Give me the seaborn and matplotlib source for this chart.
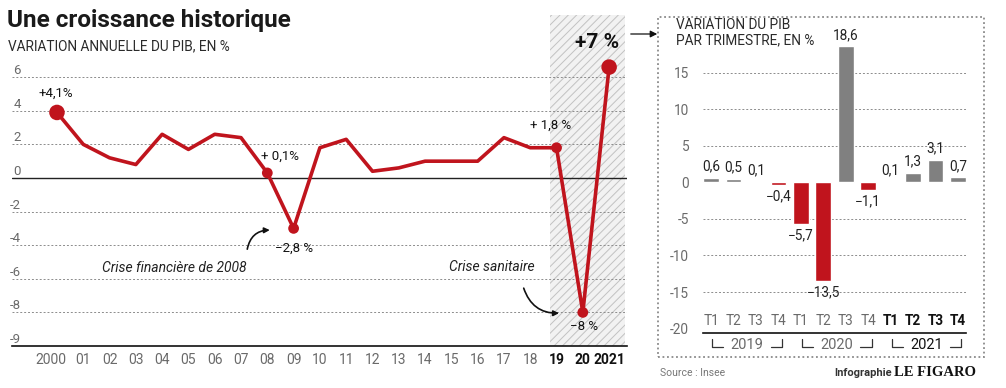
import matplotlib.pyplot as plt
import matplotlib.patches as mpatches
from matplotlib.transforms import ScaledTranslation
import pandas as pd
import seaborn as sns

# Annual GDP growth (%)
years = list(range(2000, 2022))
growth = [3.9, 2.0, 1.2, 0.8, 2.6, 1.7, 2.6, 2.4, 0.3, -3.0, 1.8, 2.3,
          0.4, 0.6, 1.0, 1.0, 1.0, 2.4, 1.8, 1.8, -8.0, 6.6]
year_labels = ["2000", "01", "02", "03", "04", "05", "06", "07", "08", "09",
               "10", "11", "12", "13", "14", "15", "16", "17", "18", "19",
               "20", "2021"]
y_ticks = [6, 4, 2, 0, -2, -4, -6, -8, -10]
y_tick_labels = ["6", "4", "2", "0", "-2", "-4", "-6", "-8", "-9"]

hl_years = [2000, 2008, 2009, 2019, 2020, 2021]
hl_labels = ["+4,1%", "+ 0,1%", "\u22122,8 %", "+ 1,8 %", "\u22128 %", "+7 %"]

# Quarterly GDP growth (%)
quarters = ["T1", "T2", "T3", "T4"] * 3
q_years = ["2019", "2020", "2021"]
q_values = [0.6, 0.5, 0.1, -0.4, -5.7, -13.5, 18.6, -1.1, 0.1, 1.3, 3.1, 0.7]
q_labels = ["0,6", "0,5", "0,1", "\u22120,4", "\u22125,7", "\u221213,5",
            "18,6", "\u22121,1", "0,1", "1,3", "3,1", "0,7"]
q_yticks = [15, 10, 5, 0, -5, -10, -15, -20]
q_grid = [15, 10, 5, -5, -10, -15]

RED = "#c0141d"
GREY_BAR = "#808080"
TXT = "#6a6a6a"

sns.set_theme(style="white")
plt.rcParams["font.family"] = ["Roboto", "DejaVu Sans"]
plt.rcParams["hatch.linewidth"] = 0.7

W, H = 1006, 388
fig = plt.figure(figsize=(W / 100, H / 100), dpi=100)


def fx(px):
    return px / W


def fy(py):
    return 1 - py / H


# ---------- left chart ----------
ax = fig.add_axes([fx(12), fy(346), fx(627) - fx(12), fy(15) - fy(346)])
ax.set_xlim(1998.29, 2021.68)
ax.set_ylim(-10, 9.7)

ax.axvspan(2018.75, 2021.62, facecolor="#f2f2f2", edgecolor="#c2c2c2",
           hatch="////", lw=0, zorder=0)
for v in [6, 4, 2, -2, -4, -6, -8]:
    ax.axhline(v, color="#8c8c8c", lw=0.7, ls=(0, (2, 2)), zorder=1)
ax.axhline(0, color="#222222", lw=1.0, zorder=1)

sns.lineplot(x=years, y=growth, color=RED, lw=2.6, ax=ax, zorder=3)
hl_df = pd.DataFrame({"year": hl_years,
                      "val": [growth[years.index(y)] for y in hl_years]})
sizes = [125 if y in (2000, 2021) else 60 for y in hl_years]
ax.scatter(hl_df["year"], hl_df["val"], s=sizes, color=RED, zorder=4, lw=0)

offsets = [(-1, 14), (9, 12), (0, -14), (-4, 16), (1, -10), (-9, 18)]
for (yr, val), lab, off in zip(hl_df.values, hl_labels, offsets):
    big = yr == 2021
    ax.annotate(lab, (yr, val), xytext=off, textcoords="offset points",
                ha="center", va="center", color="#111111",
                fontsize=15 if big else 9.5,
                fontweight="bold" if big else "normal", zorder=5)

ax.text(2004.45, -5.35, "Crise financière de 2008", style="italic",
        fontsize=10, color="#222222", ha="center", va="center")
ax.annotate("", xy=(2008.2, -3.1), xytext=(2007.22, -4.4),
            arrowprops=dict(arrowstyle="-|>", color="#111111", lw=1.2,
                            mutation_scale=8,
                            connectionstyle="arc3,rad=-0.45"))
ax.text(2016.55, -5.3, "Crise sanitaire", style="italic",
        fontsize=10, color="#222222", ha="center", va="center")
ax.annotate("", xy=(2019.2, -8.04), xytext=(2017.72, -6.4),
            arrowprops=dict(arrowstyle="-|>", color="#111111", lw=1.2,
                            mutation_scale=8,
                            connectionstyle="arc3,rad=0.4"))

ax.set_xticks(years, year_labels)
ax.set_yticks(y_ticks, y_tick_labels)
ax.tick_params(axis="x", length=0, pad=5, labelsize=10, labelcolor=TXT)
ax.tick_params(axis="y", length=0, pad=-6.3, labelsize=9.5, labelcolor=TXT)
for t in ax.get_yticklabels():
    t.set_verticalalignment("bottom")
first = ax.get_xticklabels()[0]
first.set_transform(first.get_transform()
                    + ScaledTranslation(-6 / 100, 0, fig.dpi_scale_trans))
for t in ax.get_xticklabels()[-3:]:
    t.set_color("#111111")
    t.set_fontweight("bold")
for s in ["top", "left", "right"]:
    ax.spines[s].set_visible(False)
ax.spines["bottom"].set_color("#111111")
ax.spines["bottom"].set_linewidth(1.2)
ax.set_xlabel("")
ax.set_ylabel("")

fig.text(fx(7), fy(20), "Une croissance historique", fontsize=17.5,
         fontweight="bold", color="#1a1a1a", va="center", ha="left")
fig.text(fx(8), fy(46), "VARIATION ANNUELLE DU PIB, EN %", fontsize=9.8,
         color="#2a2a2a", va="center", ha="left")

# ---------- right chart ----------
box = mpatches.Rectangle((fx(658), fy(357)), fx(984) - fx(658),
                         fy(17) - fy(357), transform=fig.transFigure,
                         fill=False, ls=(0, (1, 1.5)), lw=1.3,
                         edgecolor="#8a8a8a")
fig.patches.append(box)
fig.add_artist(mpatches.FancyArrowPatch((fx(628), fy(34)), (fx(660), fy(34)),
                                        transform=fig.transFigure,
                                        arrowstyle="-|>", mutation_scale=10,
                                        color="#111111", lw=0.9))

ax2 = fig.add_axes([fx(703), fy(333), fx(966) - fx(703), fy(25) - fy(333)])
qdf = pd.DataFrame({"q": [f"{q_years[i // 4]} {q}" for i, q in enumerate(quarters)],
                    "val": q_values,
                    "sign": ["neg" if v < 0 else "pos" for v in q_values]})
for v in q_grid:
    ax2.axhline(v, color="#8c8c8c", lw=0.7, ls=(0, (2, 2)), zorder=0)
sns.barplot(data=qdf, x="q", y="val", hue="sign",
            palette={"neg": RED, "pos": GREY_BAR}, width=0.7,
            legend=False, ax=ax2, zorder=2, saturation=1)
ax2.set_xlim(-0.36, 11.36)
ax2.set_ylim(-20.6, 21.5)

for i, (v, lab) in enumerate(zip(q_values, q_labels)):
    ax2.annotate(lab, (i, v), xytext=(0, 3 if v >= 0 else -3),
                 textcoords="offset points", ha="center",
                 va="bottom" if v >= 0 else "top", fontsize=9.8,
                 color="#222222")

ax2.set_xticks(range(len(quarters)), quarters)
ax2.set_yticks(q_yticks, [str(v) for v in q_yticks])
ax2.tick_params(axis="x", length=0, pad=-13.5, labelsize=9.8, labelcolor=TXT)
ax2.tick_params(axis="y", length=0, pad=10, labelsize=9.8, labelcolor=TXT)
for t in ax2.get_xticklabels()[8:]:
    t.set_color("#111111")
    t.set_fontweight("bold")
for s in ["top", "left", "right"]:
    ax2.spines[s].set_visible(False)
ax2.spines["bottom"].set_color("#111111")
ax2.spines["bottom"].set_linewidth(1.2)
ax2.set_xlabel("")
ax2.set_ylabel("")

# year brackets under the quarters
xt = ax2.get_xaxis_transform()
for g, yr in enumerate(q_years):
    x0, x1 = g * 4 + 0.05, g * 4 + 3.15
    xm = (x0 + x1) / 2
    ax2.plot([x0, x0, x0 + 0.5], [-0.02, -0.045, -0.045], color="#333333",
             lw=0.9, transform=xt, clip_on=False)
    ax2.plot([x1 - 0.5, x1, x1], [-0.045, -0.045, -0.02], color="#333333",
             lw=0.9, transform=xt, clip_on=False)
    ax2.text(xm, -0.04, yr, transform=xt, ha="center", va="center",
             fontsize=10.5, color="#111111" if yr == "2021" else TXT)

fig.text(fx(676), fy(33), "VARIATION DU PIB\nPAR TRIMESTRE, EN %",
         fontsize=9.8, color="#2a2a2a", va="center", ha="left",
         linespacing=1.1)

# ---------- footer ----------
fig.text(fx(660), fy(373), "Source : Insee", fontsize=7.5, color="#777777",
         va="center", ha="left")
fig.text(fx(892), fy(373), "Infographie", fontsize=8, fontweight="bold",
         color="#333333", va="center", ha="right")
fig.text(fx(976), fy(373), "LE FIGARO", fontsize=10.5, fontweight="bold",
         family=["Liberation Serif", "DejaVu Serif"], color="#111111",
         va="center", ha="right")

plt.savefig("out.png", dpi=100)
